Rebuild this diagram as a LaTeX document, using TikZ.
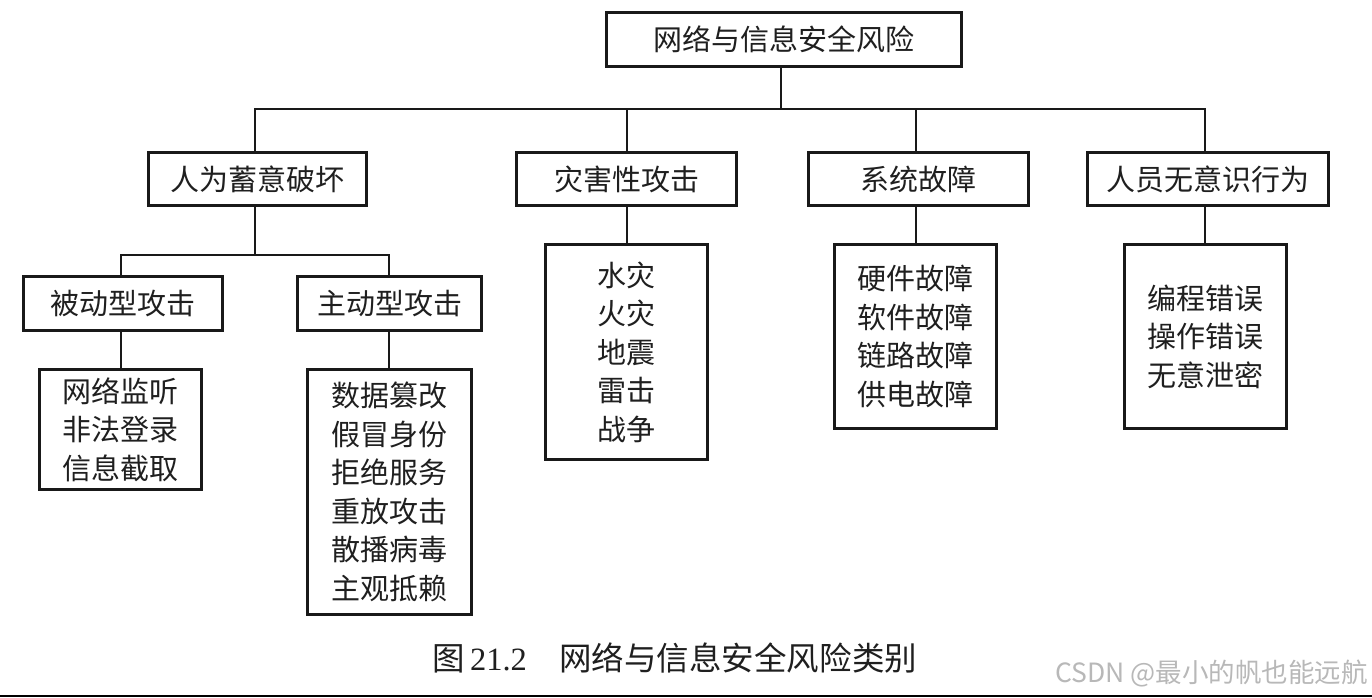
\documentclass[tikz,border=0pt]{standalone}
\usepackage{fontspec}
\setmainfont{Noto Sans CJK SC}
\newfontfamily\latinserif{Liberation Serif}
\newfontfamily\wmfont{Noto Sans CJK SC}
\begin{document}
\begin{tikzpicture}[x=1pt,y=-1pt]
\tikzset{
  box/.style={draw=black!90, line width=2.6pt, rectangle, inner sep=0pt, align=center,
    font=\fontsize{29}{38.5}\selectfont, text=black!88},
  link/.style={draw=black!90, line width=2.6pt},
  captxt/.style={inner sep=0pt, text=black!88, font=\fontsize{32.5}{32.5}\selectfont},
  wmark/.style={inner sep=0pt, text=black!28, font=\wmfont\fontsize{26.5}{26.5}\selectfont}
}
\useasboundingbox (0,0) rectangle (1372,697);
\fill[white] (0,0) rectangle (1372,697);

% boxes
\node[box, minimum width=355.5pt, minimum height=54.5pt] (top) at (784,39.5) {网络与信息安全风险};
\node[box, minimum width=218.5pt, minimum height=53.5pt] (A) at (257.5,179) {人为蓄意破坏};
\node[box, minimum width=220.5pt, minimum height=53.5pt] (B) at (626.5,179) {灾害性攻击};
\node[box, minimum width=220.5pt, minimum height=53.5pt] (C) at (918.5,179) {系统故障};
\node[box, minimum width=241.5pt, minimum height=53.5pt] (D) at (1208,179) {人员无意识行为};
\node[box, minimum width=199.5pt, minimum height=54.5pt] (A1) at (123,303.5) {被动型攻击};
\node[box, minimum width=184.5pt, minimum height=54.5pt] (A2) at (389.5,303.5) {主动型攻击};
\node[box, minimum width=162.5pt, minimum height=120.5pt] (LA1) at (120.5,429.5) {网络监听\\非法登录\\信息截取};
\node[box, minimum width=164.5pt, minimum height=245.5pt] (LA2) at (389.5,492) {数据篡改\\假冒身份\\拒绝服务\\重放攻击\\散播病毒\\主观抵赖};
\node[box, minimum width=162.5pt, minimum height=215.5pt] (LB) at (626.5,352) {水灾\\火灾\\地震\\雷击\\战争};
\node[box, minimum width=162.5pt, minimum height=184.5pt] (LC) at (915.5,336.5) {硬件故障\\软件故障\\链路故障\\供电故障};
\node[box, minimum width=162.5pt, minimum height=184.5pt] (LD) at (1205.5,336.5) {编程错误\\操作错误\\无意泄密};

% junction coordinates
\coordinate (jt) at (781,109);
\coordinate (j1) at (255,109);
\coordinate (j2) at (627,109);
\coordinate (j3) at (916,109);
\coordinate (j4) at (1205,109);
\coordinate (ka) at (255,255);
\coordinate (k1) at (121,255);
\coordinate (k2) at (389,255);

% connectors
\draw[link] (top.south -| jt) -- (jt);
\draw[link] (A.north -| j1) -- (j1) -- (j4) -- (D.north -| j4);
\draw[link] (j2) -- (B.north -| j2);
\draw[link] (j3) -- (C.north -| j3);
\draw[link] (A.south -| ka) -- (ka);
\draw[link] (A1.north -| k1) -- (k1) -- (k2) -- (A2.north -| k2);
\draw[link] (A1.south -| k1) -- (LA1.north -| k1);
\draw[link] (A2.south -| k2) -- (LA2.north -| k2);
\draw[link] (B.south -| j2) -- (LB.north -| j2);
\draw[link] (C.south -| j3) -- (LC.north -| j3);
\draw[link] (D.south -| j4) -- (LD.north -| j4);

% caption
\node[captxt, anchor=base west] (cap) at (432,670) {图\,{\latinserif 21.2}\quad 网络与信息安全风险类别};
% watermark
\node[wmark, anchor=base east] (wm) at (1368,682) {CSDN @最小的帆也能远航};
% bottom rule
\coordinate (bl) at (0,695.8);
\coordinate (br) at (1372,695.8);
\draw[line width=2.6pt, black] (bl) -- (br);
\end{tikzpicture}
\end{document}
